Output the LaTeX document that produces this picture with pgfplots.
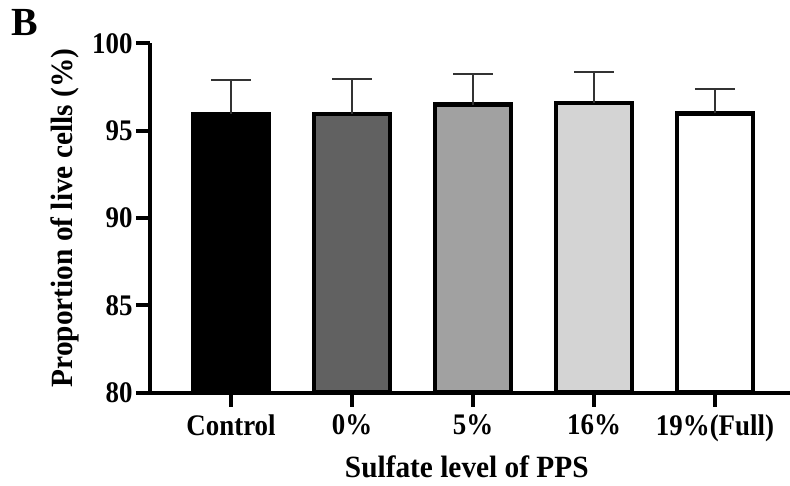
\documentclass[border=0pt]{standalone}
\usepackage{pgfplots}
\pgfplotsset{compat=1.18}
\usepackage{fontspec}
\setmainfont{Liberation Serif}
\newfontfamily\tickfont[FakeStretch=0.9]{Liberation Serif}
\newfontfamily\labfont[FakeStretch=0.95]{Liberation Serif}
\newcommand\lbl{\tickfont\fontsize{30}{32}\selectfont\bfseries}
\newcommand\lab{\labfont\fontsize{31}{33}\selectfont\bfseries}
\pgfplotsset{eb/.style={draw=black, line width=4.5bp,
    error bars/.cd, y dir=plus, y explicit,
    error bar style={line width=1.6bp, color=black!80},
    error mark options={rotate=90, mark size=20bp, line width=1.6bp, color=black!80}}}
\begin{document}
\begin{tikzpicture}
\begin{axis}[
  scale only axis, width=640bp, height=349bp,
  xmin=-0.67, xmax=4.62, ymin=80, ymax=100,
  axis x line*=bottom, axis y line*=left,
  axis line style={line width=4bp, black},
  every tick/.style={line width=4bp, black},
  tick align=outside, major tick length=14bp,
  ytick={80,85,90,95,100},
  xtick={0,1,2,3,4},
  xticklabels={Control,0\%,5\%,16\%,19\%(Full)},
  /pgf/number format/assume math mode=true,
  tick label style={font=\lbl},
  xticklabel style={yshift=-5bp},
  label style={font=\lab},
  xlabel={Sulfate level of PPS},
  ylabel={Proportion of live cells (\%)},
  xlabel style={at={(axis description cs:0.495,-0.213)}, anchor=center},
  ylabel style={at={(axis description cs:-0.133,0.5)}, anchor=center},
  ybar, bar width=76bp, bar shift=0pt,
]
\addplot[fill=black, eb] coordinates {(0,95.95) +- (0,1.95)};
\addplot[fill=black!62, eb] coordinates {(1,95.95) +- (0,2.0)};
\addplot[fill=black!37, eb] coordinates {(2,96.5) +- (0,1.75)};
\addplot[fill=black!17, eb] coordinates {(3,96.6) +- (0,1.75)};
\addplot[fill=white, eb] coordinates {(4,96.0) +- (0,1.4)};
\end{axis}
\node[font=\fontsize{40}{42}\selectfont\bfseries, anchor=center] at ([shift={(-125bp,369.5bp)}]current axis.south west) {B};
\pgfresetboundingbox
\path[use as bounding box] ([shift={(-150bp,-93.5bp)}]current axis.south west) rectangle ([shift={(640bp,392.5bp)}]current axis.south west);
\end{tikzpicture}
\end{document}
